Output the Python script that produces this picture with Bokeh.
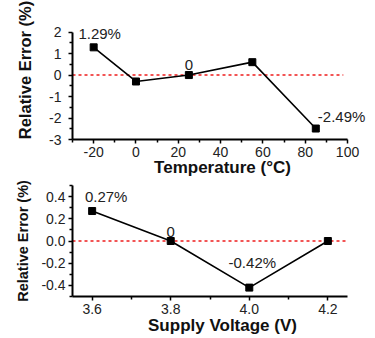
from bokeh.plotting import figure
from bokeh.models import FixedTicker, Label, Range1d
from bokeh.layouts import column
from bokeh.embed import file_html
from bokeh.resources import INLINE

# ---- data: temperature panel ----
temp_c = [-20, 0, 25, 55, 85]
temp_err = [1.29, -0.30, 0.0, 0.60, -2.49]
temp_ann_idx = [0, 2, 4]
temp_ann_text = ["1.29%", "0", "-2.49%"]
temp_xticks = [-20, 0, 20, 40, 60, 80, 100]
temp_xlabels = ["-20", "0", "20", "40", "60", "80", "100"]
temp_xminor = [-30, -10, 10, 30, 50, 70, 90]
temp_yticks = [-3, -2, -1, 0, 1, 2]
temp_ylabels = ["-3", "-2", "-1", "0", "1", "2"]
temp_yminor = [-2.5, -1.5, -0.5, 0.5, 1.5]
temp_xbounds = (-30, 100)
temp_ybounds = (-3, 2)
temp_zero_x = [-30, 98]

# ---- data: supply voltage panel ----
volt = [3.6, 3.8, 4.0, 4.2]
volt_err = [0.27, 0.0, -0.42, 0.0]
volt_ann_idx = [0, 1, 2]
volt_ann_text = ["0.27%", "0", "-0.42%"]
volt_xticks = [3.6, 3.8, 4.0, 4.2]
volt_xlabels = ["3.6", "3.8", "4.0", "4.2"]
volt_xminor = [3.7, 3.9, 4.1]
volt_yticks = [-0.4, -0.2, 0.0, 0.2, 0.4]
volt_ylabels = ["-0.4", "-0.2", "0.0", "0.2", "0.4"]
volt_yminor = [-0.5, -0.3, -0.1, 0.1, 0.3, 0.5]
volt_xbounds = (3.55, 4.25)
volt_ybounds = (-0.5, 0.5)
volt_zero_x = [3.55, 4.25]

FONT = "Liberation Sans"


def style(p, xt, xl, xm, yt, yl, ym, xb, yb, xlabel, ylabel,
          ysize, ystand, ylabstand, xlabstand):
    p.outline_line_color = None
    p.xgrid.visible = False
    p.ygrid.visible = False
    p.background_fill_color = "white"
    p.border_fill_color = "white"
    p.xaxis.ticker = FixedTicker(ticks=xt, minor_ticks=xm)
    p.yaxis.ticker = FixedTicker(ticks=yt, minor_ticks=ym)
    p.xaxis.major_label_overrides = {t: s for t, s in zip(xt, xl)}
    p.yaxis.major_label_overrides = {t: s for t, s in zip(yt, yl)}
    p.xaxis.bounds = xb
    p.yaxis.bounds = yb
    for ax in (p.xaxis, p.yaxis):
        ax.axis_line_width = 2
        ax.axis_line_color = "black"
        ax.major_tick_line_color = "black"
        ax.minor_tick_line_color = "black"
        ax.major_tick_line_width = 1.5
        ax.minor_tick_line_width = 1.5
        ax.major_tick_in = 0
        ax.major_tick_out = 4
        ax.minor_tick_in = 0
        ax.minor_tick_out = 3
        ax.major_label_text_font = FONT
        ax.major_label_text_font_size = "14px"
        ax.major_label_text_color = "#222222"
        ax.axis_label_text_font = FONT
        ax.axis_label_text_font_style = "bold"
        ax.axis_label_text_color = "#111111"
    p.xaxis.axis_label_text_font_size = "17px"
    p.xaxis.major_label_standoff = 3
    p.xaxis.axis_label_standoff = xlabstand
    p.yaxis.axis_label_text_font_size = ysize
    p.yaxis.major_label_standoff = ystand
    p.yaxis.axis_label_standoff = ylabstand
    p.xaxis.axis_label = xlabel
    p.yaxis.axis_label = ylabel


def annotate(p, xs, ys, idx, texts, offsets, aligns):
    for k, i in enumerate(idx):
        p.add_layout(Label(x=xs[i], y=ys[i], text=texts[k],
                           x_offset=offsets[k][0], y_offset=offsets[k][1],
                           text_align=aligns[k], text_baseline="middle",
                           text_font=FONT, text_font_size="15px",
                           text_color="#222222"))


# ---- top figure ----
p1 = figure(width=375, height=179, output_backend="svg",
            toolbar_location=None,
            x_range=Range1d(-30, 111.8), y_range=Range1d(-3, 3.47),
            min_border_left=72, min_border_right=3,
            min_border_top=0, min_border_bottom=39)
style(p1, temp_xticks, temp_xlabels, temp_xminor, temp_yticks, temp_ylabels,
      temp_yminor, temp_xbounds, temp_ybounds,
      "Temperature (°C)", "Relative Error (%)", "16.5px", 7, 12, -2)
p1.line(temp_zero_x, [0, 0], line_color="#ee1c1c", line_width=1.5,
        line_dash="3 3")
p1.line(temp_c, temp_err, line_color="black", line_width=1.6)
p1.scatter(temp_c, temp_err, marker="square", size=7, color="black")
annotate(p1, temp_c, temp_err, temp_ann_idx, temp_ann_text,
         [(6, 14), (0, 10), (2, 12)], ["center", "center", "left"])

# ---- bottom figure ----
p2 = figure(width=375, height=159, output_backend="svg",
            toolbar_location=None,
            x_range=Range1d(3.55, 4.3136), y_range=Range1d(-0.5, 0.5),
            min_border_left=72, min_border_right=3,
            min_border_top=6, min_border_bottom=42)
style(p2, volt_xticks, volt_xlabels, volt_xminor, volt_yticks, volt_ylabels,
      volt_yminor, volt_xbounds, volt_ybounds,
      "Supply Voltage (V)", "Relative Error (%)", "14.5px", 3, 7, -1)
p2.line(volt_zero_x, [0, 0], line_color="#ee1c1c", line_width=1.5,
        line_dash="3 3")
p2.line(volt, volt_err, line_color="black", line_width=1.6)
p2.scatter(volt, volt_err, marker="square", size=7, color="black")
annotate(p2, volt, volt_err, volt_ann_idx, volt_ann_text,
         [(14, 15), (0, 9), (3, 25)], ["center", "center", "center"])

layout = column(p1, p2, spacing=0)
open("out.html", "w").write(file_html(layout, INLINE))
